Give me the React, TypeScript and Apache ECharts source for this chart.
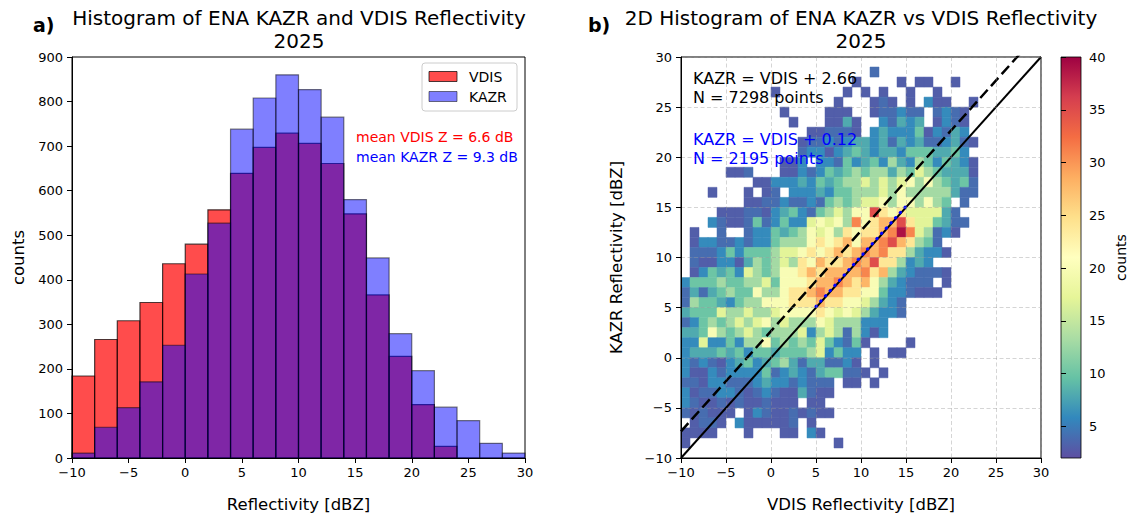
import React, { useEffect, useRef } from 'react';
import * as echarts from 'echarts';

const FONT = 'DejaVu Sans';

// ---- Panel a: 1-D histograms (2 dBZ bins) ----
const BIN_EDGES = [-10, -8, -6, -4, -2, 0, 2, 4, 6, 8, 10, 12, 14, 16, 18, 20, 22, 24, 26, 28, 30];
const VDIS_COUNTS = [184, 266, 308, 349, 436, 480, 557, 639, 697, 729, 706, 661, 548, 366, 228, 120, 26, 0, 0, 0];
const KAZR_COUNTS = [11, 69, 113, 171, 253, 413, 527, 738, 808, 860, 827, 765, 580, 449, 279, 196, 114, 84, 33, 11];
const MEAN_VDIS = 6.6;
const MEAN_KAZR = 9.3;

const HIST_X_TICK_STEP = 5;
const HIST_Y_MAX = 900;
const HIST_Y_TICK_STEP = 100;

// ---- Panel b: 2-D histogram (1 dBZ cells) ----
const FIT_ALL = { offset: 2.66, n: 7298 };
const FIT_SUB = { offset: 0.12, n: 2195, from: 5, to: 15 };

const HIST2D_X0 = -10; // left edge of the first column
const HIST2D_Y_TOP = 29; // lower edge of the first row
// count represented by each cell symbol ('.' = empty cell)
const LEVEL_COUNTS: Record<string, number> = {
  '1': 3, '2': 4, '3': 6, '4': 8, '5': 10, '6': 13, '7': 17,
  '8': 20, '9': 24, a: 28, b: 31, c: 35, d: 39,
};
// rows from y = 29 down to y = -10; columns x = -10 .. 29 (groups of 10)
const HIST2D_ROWS = [
  '.......... .......... .......... ..........',
  '.......... .......... .2........ ..........',
  '.......... .........1 ....1.11.. 1.........',
  '.......... 1.......1. 1.1..1..1. ..........',
  '.......... .......1.. .121.1.311 ..1.......',
  '.......... .1....111. .122322.23 21........',
  '.......... ..1...1141 ..32434.13 21........',
  '.......... ....112221 .343335132 43........',
  '.......... ...1223234 4342434223 421.......',
  '.......... ...2331345 4344355544 53........',
  '.......... .113.33253 4536436535 431.......',
  '.....112.. .113235456 5664657654 441.......',
  '........11 3334354566 7676786865 452.......',
  '...1...1.1 2.33343556 6676866666 422.......',
  '.......112 2322325656 7786886865 .2........',
  '....111221 3453256768 8c98977774 2.........',
  '...3211252 353378786b 89aac97754 22........',
  '.1..2..233 5456878698 99abdb7623 1.........',
  '.133223233 56668989a8 aabca9652. ..........',
  '.222353555 6778989a9a bab9964331 ..........',
  '.211331465 67698a99ab ac996343.. ..........',
  '.135453765 6889a9aaaa b9a6432221 ..........',
  '3555655667 58889aaba9 a8643222.1 ..........',
  '2424565586 6899abaa99 885332111. ..........',
  '2655435668 88999a9988 76432..... ..........',
  '4555766766 7888898787 64332..... ..........',
  '2356567678 6766687666 333....... ..........',
  '4458656765 6667367626 313....... ..........',
  '3373353668 5656575325 1....1.... ..........',
  '3444545355 4555673533 .1.11..... ..........',
  '3232134534 5642442231 .1........ ..........',
  '3113233335 2343245522 1.1....... ..........',
  '2213322234 3323222.11 .1........ ..........',
  '3122332123 2114211... .......... ..........',
  '3211212112 111.11.... .......... ..........',
  '212111.132 1121211... .......... ..........',
  '.1221.3111 112.1..... .......... ..........',
  '1111...1.. .11.31.... .......... ..........',
  '1......... .......1.. .......... ..........',
  '.......... .......... .......... ..........',
];

const AXIS_MIN = -10;
const AXIS_MAX = 30;
const AXIS_TICK_STEP = 5;

const CBAR_MIN = 2;
const CBAR_MAX = 40;
const CBAR_TICKS = [5, 10, 15, 20, 25, 30, 35, 40];

// Spectral colormap, reversed (low -> high)
const SPECTRAL_R = [
  '#5e4fa2', '#3288bd', '#66c2a5', '#abdda4', '#e6f598', '#ffffbf',
  '#fee08b', '#fdae61', '#f46d43', '#d53e4f', '#9e0142',
];

const VDIS_FILL = 'rgba(255,0,0,0.7)';
const VDIS_EDGE = 'rgba(0,0,0,0.7)';
const KAZR_FILL = 'rgba(0,0,255,0.5)';
const KAZR_EDGE = 'rgba(0,0,0,0.5)';

function hist2dCells(): number[][] {
  const cells: number[][] = [];
  HIST2D_ROWS.forEach((row, r) => {
    const chars = row.replace(/ /g, '');
    const y = HIST2D_Y_TOP - r;
    for (let i = 0; i < chars.length; i++) {
      const c = chars[i];
      if (c !== '.') cells.push([HIST2D_X0 + i, y, LEVEL_COUNTS[c]]);
    }
  });
  return cells;
}

const minusFmt = (v: number) => String(v).replace('-', '\u2212');

function valueAxis(extra: any, labelMargin: number) {
  return {
    type: 'value',
    z: 10,
    axisLine: { show: true, onZero: false, lineStyle: { color: '#000', width: 1 } },
    axisTick: { show: true, inside: false, length: 5, lineStyle: { color: '#000', width: 1 } },
    axisLabel: { color: '#000', fontSize: 13, fontFamily: FONT, formatter: minusFmt, margin: labelMargin },
    splitLine: { show: false },
    nameLocation: 'middle',
    nameTextStyle: { color: '#000', fontSize: 16.5, fontFamily: FONT },
    ...extra,
  };
}

function txt(x: number, y: number, text: string, size: number, color = '#000', align = 'left', weight = 'normal') {
  return {
    type: 'text',
    x,
    y,
    z: 100,
    silent: true,
    style: {
      text,
      fill: color,
      fontSize: size,
      fontFamily: FONT,
      fontWeight: weight,
      textAlign: align,
      textVerticalAlign: 'middle',
      align,
      verticalAlign: 'middle',
    },
  };
}

function histSeries(name: string, counts: number[], fill: string, edge: string) {
  return {
    name,
    type: 'custom',
    xAxisIndex: 0,
    yAxisIndex: 0,
    silent: true,
    encode: { x: [0, 1], y: 2 },
    data: counts.map((c, i) => [BIN_EDGES[i], BIN_EDGES[i + 1], c]),
    renderItem: (_params: any, api: any) => {
      const c = api.value(2);
      if (!c) return null;
      const a = api.coord([api.value(0), c]);
      const b = api.coord([api.value(1), 0]);
      return {
        type: 'rect',
        shape: { x: a[0], y: a[1], width: b[0] - a[0], height: b[1] - a[1] },
        style: { fill, stroke: edge, lineWidth: 1.2 },
      };
    },
  };
}

function buildOption() {
  const gridTop = 57;
  const gridH = 401;
  const grid = [
    { left: 72, top: gridTop, width: 453, height: gridH, show: true, borderColor: '#000', borderWidth: 1, backgroundColor: 'transparent' },
    { left: 681, top: gridTop, width: 360, height: gridH, show: true, borderColor: '#000', borderWidth: 1, backgroundColor: 'transparent' },
    { left: 1061, top: gridTop, width: 20, height: gridH, show: false },
  ];

  const gridLine = { show: true, lineStyle: { color: 'rgba(150,150,150,0.5)', width: 0.8, type: [4, 2.5] } };

  const xAxis = [
    valueAxis({ gridIndex: 0, min: BIN_EDGES[0], max: BIN_EDGES[BIN_EDGES.length - 1], interval: HIST_X_TICK_STEP, name: 'Reflectivity [dBZ]', nameGap: 38 }, 8),
    valueAxis({ gridIndex: 1, min: AXIS_MIN, max: AXIS_MAX, interval: AXIS_TICK_STEP, name: 'VDIS Reflectivity [dBZ]', nameGap: 38, splitLine: gridLine }, 8),
    { gridIndex: 2, type: 'value', min: 0, max: 1, show: false },
  ];
  const yAxis = [
    valueAxis({ gridIndex: 0, min: 0, max: HIST_Y_MAX, interval: HIST_Y_TICK_STEP, name: 'counts', nameGap: 45, nameRotate: 90 }, 9),
    valueAxis({ gridIndex: 1, min: AXIS_MIN, max: AXIS_MAX, interval: AXIS_TICK_STEP, name: 'KAZR Reflectivity [dBZ]', nameGap: 56, nameRotate: 90, splitLine: gridLine }, 9),
    {
      gridIndex: 2,
      type: 'value',
      position: 'right',
      min: CBAR_MIN,
      max: CBAR_MAX,
      z: 10,
      axisLine: { show: false },
      axisTick: { show: true, length: 5, customValues: CBAR_TICKS, lineStyle: { color: '#000', width: 1 } },
      axisLabel: { show: true, customValues: CBAR_TICKS, color: '#000', fontSize: 13, fontFamily: FONT, margin: 8 },
      splitLine: { show: false },
      name: 'counts',
      nameLocation: 'middle',
      nameRotate: 90,
      nameGap: 33,
      nameTextStyle: { color: '#000', fontSize: 14, fontFamily: FONT },
    },
  ];

  const gradient = new echarts.graphic.LinearGradient(
    0, 1, 0, 0,
    SPECTRAL_R.map((color, i) => ({ offset: i / (SPECTRAL_R.length - 1), color }))
  );

  const series: any[] = [
    histSeries('VDIS', VDIS_COUNTS, VDIS_FILL, VDIS_EDGE),
    histSeries('KAZR', KAZR_COUNTS, KAZR_FILL, KAZR_EDGE),
    {
      name: 'hist2d',
      type: 'custom',
      xAxisIndex: 1,
      yAxisIndex: 1,
      silent: true,
      dimensions: ['x', 'y', 'count'],
      encode: { x: 0, y: 1 },
      data: hist2dCells(),
      renderItem: (_params: any, api: any) => {
        const x = api.value(0);
        const y = api.value(1);
        const p0 = api.coord([x, y + 1]);
        const p1 = api.coord([x + 1, y]);
        const color = api.visual('color');
        return {
          type: 'rect',
          shape: { x: p0[0], y: p0[1], width: p1[0] - p0[0], height: p1[1] - p0[1] },
          style: { fill: color, stroke: color, lineWidth: 0.5 },
        };
      },
    },
    {
      name: 'one-to-one',
      type: 'line',
      xAxisIndex: 1,
      yAxisIndex: 1,
      symbol: 'none',
      silent: true,
      clip: true,
      data: [[AXIS_MIN, AXIS_MIN], [AXIS_MAX, AXIS_MAX]],
      lineStyle: { color: '#000', width: 2 },
    },
    {
      name: 'fit all',
      type: 'line',
      xAxisIndex: 1,
      yAxisIndex: 1,
      symbol: 'none',
      silent: true,
      clip: true,
      data: [[AXIS_MIN, AXIS_MIN + FIT_ALL.offset], [AXIS_MAX, AXIS_MAX + FIT_ALL.offset]],
      lineStyle: { color: '#000', width: 2.5, type: [11, 5] },
    },
    {
      name: 'fit subset',
      type: 'line',
      xAxisIndex: 1,
      yAxisIndex: 1,
      symbol: 'none',
      silent: true,
      clip: true,
      z: 4,
      data: [[FIT_SUB.from, FIT_SUB.from + FIT_SUB.offset], [FIT_SUB.to, FIT_SUB.to + FIT_SUB.offset]],
      lineStyle: { color: '#0000ff', width: 3, type: [0.5, 6.5], cap: 'round' },
    },
    {
      name: 'colorbar',
      type: 'custom',
      xAxisIndex: 2,
      yAxisIndex: 2,
      silent: true,
      data: [[0, CBAR_MIN, CBAR_MAX]],
      encode: { x: 0, y: [1, 2] },
      renderItem: (_params: any, api: any) => {
        const a = api.coord([0, api.value(2)]);
        const b = api.coord([1, api.value(1)]);
        return {
          type: 'rect',
          shape: { x: a[0], y: a[1], width: b[0] - a[0], height: b[1] - a[1] },
          style: { fill: gradient, stroke: '#000', lineWidth: 0.8 },
        };
      },
    },
  ];

  const legendX = 422;
  const legendY = 63;
  const graphic = [
    txt(299, 18, 'Histogram of ENA KAZR and VDIS Reflectivity', 20, '#000', 'center'),
    txt(299, 41, '2025', 20, '#000', 'center'),
    txt(861, 18, '2D Histogram of ENA KAZR vs VDIS Reflectivity', 20, '#000', 'center'),
    txt(861, 41, '2025', 20, '#000', 'center'),
    txt(33, 25, 'a)', 19, '#000', 'left', 'bold'),
    txt(588, 25, 'b)', 19, '#000', 'left', 'bold'),
    txt(356, 137, `mean VDIS Z = ${MEAN_VDIS} dB`, 14, '#ff0000'),
    txt(356, 157, `mean KAZR Z = ${MEAN_KAZR} dB`, 14, '#0000ff'),
    txt(693, 78, `KAZR = VDIS + ${FIT_ALL.offset}`, 16, '#000'),
    txt(693, 97, `N = ${FIT_ALL.n} points`, 16, '#000'),
    txt(693, 139, `KAZR = VDIS + ${FIT_SUB.offset}`, 16, '#0000ff'),
    txt(693, 158, `N = ${FIT_SUB.n} points`, 16, '#0000ff'),
    {
      type: 'rect',
      z: 90,
      silent: true,
      shape: { x: legendX, y: legendY, width: 95, height: 48, r: 3 },
      style: { fill: 'rgba(255,255,255,0.8)', stroke: '#cccccc', lineWidth: 1 },
    },
    {
      type: 'rect',
      z: 95,
      silent: true,
      shape: { x: legendX + 7, y: legendY + 8.5, width: 28, height: 10 },
      style: { fill: VDIS_FILL, stroke: VDIS_EDGE, lineWidth: 1 },
    },
    {
      type: 'rect',
      z: 95,
      silent: true,
      shape: { x: legendX + 7, y: legendY + 28.5, width: 28, height: 10 },
      style: { fill: KAZR_FILL, stroke: KAZR_EDGE, lineWidth: 1 },
    },
    txt(legendX + 47, legendY + 14, 'VDIS', 14),
    txt(legendX + 47, legendY + 34, 'KAZR', 14),
  ];

  return {
    animation: false,
    backgroundColor: '#ffffff',
    textStyle: { fontFamily: FONT },
    grid,
    xAxis,
    yAxis,
    visualMap: {
      type: 'continuous',
      show: false,
      min: CBAR_MIN,
      max: CBAR_MAX,
      dimension: 2,
      seriesIndex: 2,
      inRange: { color: SPECTRAL_R },
    },
    series,
    graphic,
  };
}

export default function App() {
  const ref = useRef<HTMLDivElement>(null);
  useEffect(() => {
    if (!ref.current) return;
    const chart = echarts.init(ref.current, null, { renderer: 'svg' });
    chart.setOption(buildOption() as any);
    return () => chart.dispose();
  }, []);
  return (
    <div
      ref={ref}
      style={{ position: 'absolute', left: 0, top: 0, width: 1129, height: 519, background: '#fff' }}
    />
  );
}
